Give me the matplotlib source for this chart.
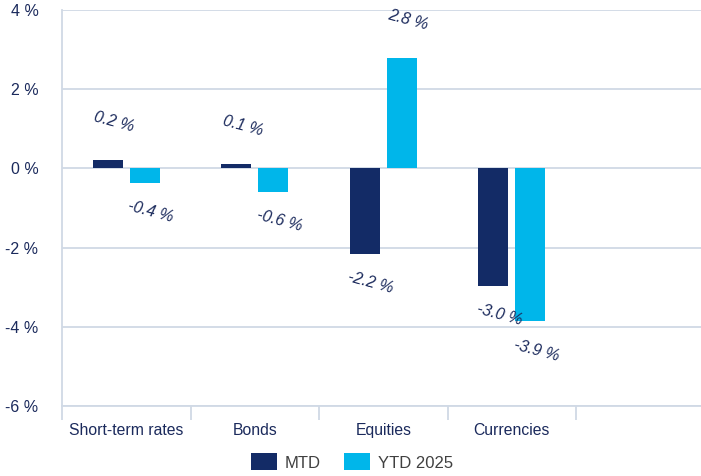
import matplotlib
matplotlib.use("Agg")
import matplotlib.pyplot as plt
from matplotlib.patches import Patch
import numpy as np

categories = ["Short-term rates", "Bonds", "Equities", "Currencies", ""]
mtd = [0.21, 0.10, -2.16, -2.96]
ytd = [-0.36, -0.59, 2.80, -3.86]
series_names = ["MTD", "YTD 2025"]
yticks = [-6, -4, -2, 0, 2, 4]

C_MTD = "#132b66"
C_YTD = "#00b6ea"
NAVY = "#1b2a5c"
GRID = "#d0d9e5"

plt.rcParams["font.family"] = ["Liberation Sans", "DejaVu Sans"]

fig = plt.figure(figsize=(7.01, 4.76), dpi=100)
W, H = 701, 476
ax = fig.add_axes([62 / W, (476 - 406) / H, 642.5 / W, 396 / H])

n = len(categories)
x = np.arange(n)
bw = 0.233
off = 0.144
vals_idx = np.arange(len(mtd))
ax.bar(vals_idx - off, mtd, width=bw, color=C_MTD, zorder=3)
ax.bar(vals_idx + off, ytd, width=bw, color=C_YTD, zorder=3)

ax.set_xlim(-0.5, n - 0.5)
ax.set_ylim(-6, 4)
ax.set_yticks(yticks)
ax.set_yticklabels([f"{t} %" for t in yticks], color=NAVY, fontsize=11.5)
ax.tick_params(axis="y", length=0, pad=17)
ax.yaxis.grid(True, color=GRID, linewidth=1.3, zorder=0)

ax.set_xticks(x)
ax.set_xticklabels(categories, color=NAVY, fontsize=11.3)
ax.tick_params(axis="x", which="major", length=0, pad=12)
ax.set_xticks(np.arange(n + 1) - 0.5, minor=True)
ax.tick_params(axis="x", which="minor", length=10, color=GRID, width=1.3)

for s in ["top", "right"]:
    ax.spines[s].set_visible(False)
ax.spines["left"].set_color(GRID)
ax.spines["left"].set_linewidth(1.3)
ax.spines["bottom"].set_color(GRID)
ax.spines["bottom"].set_linewidth(1.3)

def label(xc, v):
    dy = 27.4 if v >= 0 else -21
    ax.annotate(f"{v:.1f} %", xy=(xc, v), xytext=(4.5, dy), textcoords="offset points",
                ha="center", va="center", rotation=-15, style="italic",
                color=NAVY, fontsize=11.5, zorder=4)

for i, v in enumerate(mtd):
    label(i - off, v)
for i, v in enumerate(ytd):
    label(i + off, v)

handles = [Patch(facecolor=C_MTD), Patch(facecolor=C_YTD)]
fig.legend(handles, series_names, loc="center", bbox_to_anchor=(352 / W, 1 - 462 / H),
           ncol=2, frameon=False, fontsize=12, labelcolor="#404040",
           handlelength=1.57, handleheight=1.18, handletextpad=0.45, columnspacing=1.4)

fig.savefig("out.png", dpi=100)
